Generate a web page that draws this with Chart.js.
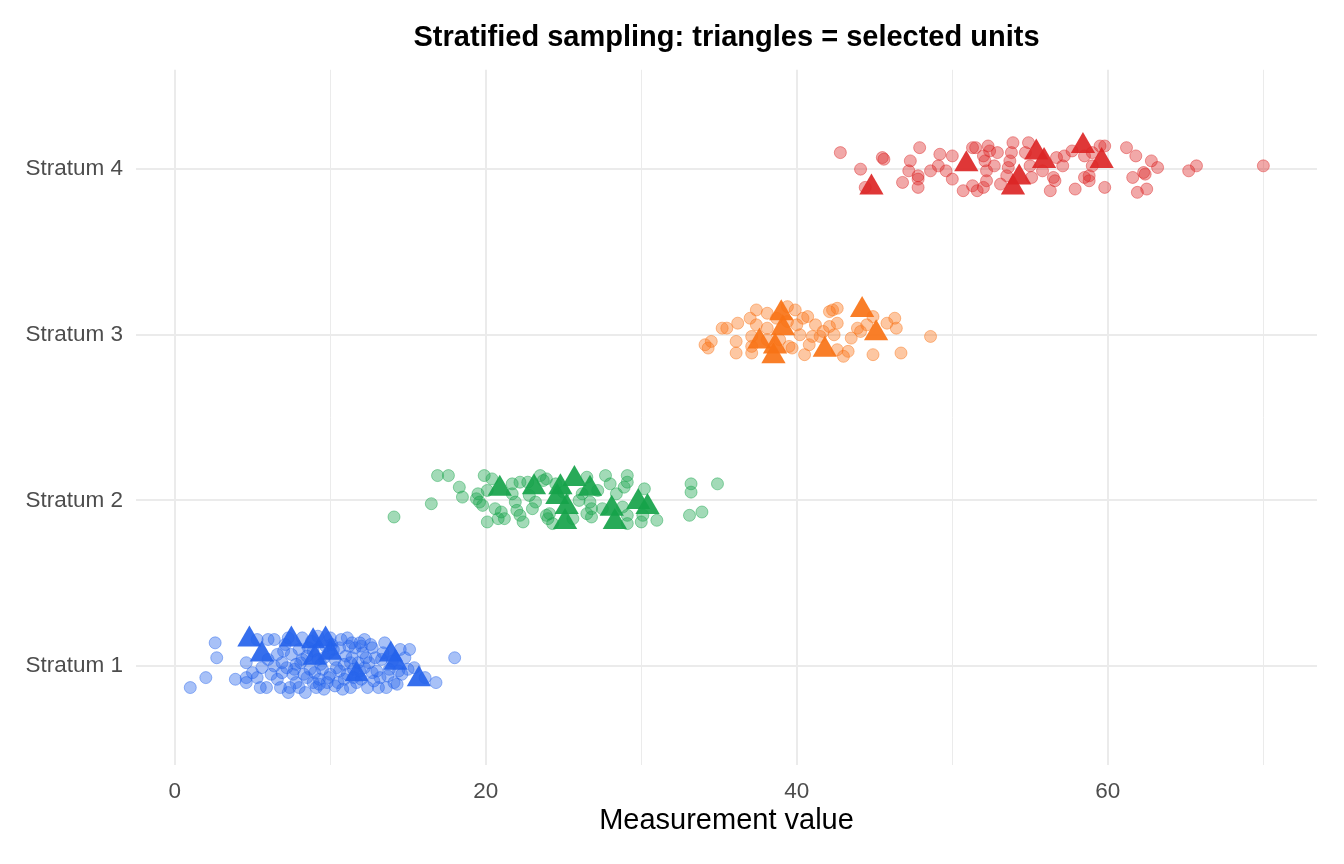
<!DOCTYPE html>
<html>
<head>
<meta charset="utf-8">
<script src="https://cdn.jsdelivr.net/npm/chart.js@4.4.1/dist/chart.umd.min.js"></script>
<style>
  html, body { margin: 0; padding: 0; background: #fff; }
  #wrap { width: 1344px; height: 864px; }
</style>
</head>
<body>
<div id="wrap"><canvas id="chart"></canvas></div>
<script>
// Strata (y positions 1..4) and tick labels
const strata = [1, 2, 3, 4];
const strataLabels = ['Stratum 1', 'Stratum 2', 'Stratum 3', 'Stratum 4'];
const xTicks = [0, 10, 20, 30, 40, 50, 60, 70];

// population units [value, jittered stratum]
const units1 = [
    [1.0, 0.87], [2.0, 0.93], [2.6, 1.14], [2.7, 1.05], [3.9, 0.92], [4.6, 1.02], [4.6, 0.93], [4.6, 0.90],
    [5.0, 0.96], [5.3, 0.93], [5.5, 0.87], [5.3, 1.16], [6.0, 1.16], [6.4, 1.16], [5.9, 0.87], [6.2, 0.95],
    [6.6, 1.07], [6.6, 0.92], [6.8, 0.87], [7.2, 0.99], [6.9, 1.02], [7.6, 0.95], [7.4, 0.87], [8.0, 0.87],
    [8.5, 0.93], [9.1, 0.87], [10.7, 1.16], [11.4, 1.14], [11.9, 1.14], [12.7, 1.11], [13.5, 1.14], [14.5, 1.10],
    [14.8, 1.05], [15.4, 0.99], [16.1, 0.93], [16.8, 0.90], [18.0, 1.05], [13.2, 0.93], [13.1, 0.87], [13.6, 0.87],
    [14.1, 0.90], [14.3, 0.89], [12.1, 1.08], [11.4, 1.05], [12.2, 0.99], [12.7, 0.96], [11.1, 0.95],
    [7.1, 1.13], [8.0, 1.10], [8.2, 1.04], [8.7, 0.98], [9.3, 0.92], [9.6, 0.86], [10.0, 0.95], [10.3, 1.04],
    [10.5, 0.90], [10.9, 1.01], [11.3, 0.87], [11.6, 1.11], [11.8, 1.02], [12.0, 0.92], [12.4, 0.87], [12.9, 1.05],
    [10.6, 1.11], [10.1, 1.13], [7.8, 1.01], [7.5, 1.07], [8.6, 1.11], [9.2, 1.04], [9.5, 0.98], [9.8, 0.90],
    [8.9, 0.90], [8.4, 0.84], [7.8, 0.90], [6.0, 1.04], [5.6, 0.99], [7.3, 0.84], [13.8, 0.98], [13.3, 1.04],
    [14.6, 0.95], [15.0, 0.98], [15.1, 1.10], [12.2, 1.16], [11.1, 1.17], [10.0, 1.17], [9.2, 1.18], [8.2, 1.17],
    [7.3, 1.17], [9.9, 1.08], [10.4, 0.99], [11.0, 1.06], [11.5, 0.98], [12.5, 1.02], [9.0, 0.96], [8.1, 1.02],
    [6.9, 0.96], [10.8, 0.86], [12.0, 1.12], [13.0, 0.97], [14.0, 1.03], [9.7, 1.12], [8.8, 1.15], [11.7, 0.90],
    [8.3, 0.95], [8.9, 1.09], [9.4, 1.01], [9.9, 0.93], [10.2, 1.10], [10.6, 0.97], [11.2, 1.12], [11.5, 0.93],
    [12.3, 1.05], [12.8, 0.91], [13.4, 1.08], [13.7, 0.94], [7.0, 1.09], [7.7, 0.98], [8.5, 1.06], [9.6, 1.05],
    [10.9, 0.92], [11.9, 0.97], [12.6, 1.13], [6.4, 1.00], [14.4, 0.97], [10.3, 0.88], [9.3, 0.89], [11.3, 1.02]
];
const units2 = [
    [14.1, 1.90], [16.5, 1.98], [16.9, 2.15], [17.6, 2.15], [18.3, 2.08], [18.5, 2.02], [19.5, 2.04], [19.4, 2.01],
    [19.6, 1.99], [19.9, 2.15], [20.4, 2.13], [20.1, 2.06], [19.8, 1.97], [20.6, 1.95], [20.1, 1.87], [20.8, 1.89],
    [21.2, 1.89], [21.7, 2.10], [21.7, 2.04], [22.2, 2.11], [21.9, 1.99], [22.0, 1.94], [22.2, 1.91], [22.4, 1.87],
    [22.7, 2.11], [23.0, 1.95], [23.2, 1.99], [23.5, 2.15], [23.7, 2.12], [23.9, 1.91], [23.9, 2.13], [26.5, 2.14],
    [27.7, 2.15], [28.0, 2.10], [29.1, 2.15], [29.1, 2.11], [28.9, 2.08], [28.4, 2.04], [26.2, 2.04], [26.0, 2.00],
    [26.7, 1.99], [26.8, 1.95], [27.5, 1.95], [26.5, 1.92], [26.8, 1.90], [24.1, 1.92], [24.0, 1.89], [24.3, 1.86],
    [25.6, 1.89], [28.8, 1.96], [29.1, 1.91], [29.1, 1.86], [30.1, 1.91], [30.0, 1.87], [31.0, 1.88], [30.2, 2.07],
    [33.2, 2.10], [33.2, 2.05], [34.9, 2.10], [33.1, 1.91], [33.9, 1.93], [24.5, 2.10], [25.0, 2.05], [27.2, 2.06],
    [22.8, 2.03], [21.0, 1.93]
];
const units3 = [
    [37.4, 3.15], [38.1, 3.13], [37.0, 3.10], [36.2, 3.07], [37.4, 3.06], [35.2, 3.04], [35.5, 3.04], [34.5, 2.96],
    [34.1, 2.94], [34.3, 2.92], [36.1, 2.96], [36.1, 2.89], [37.1, 2.99], [37.1, 2.93], [37.1, 2.89], [38.1, 3.04],
    [38.1, 2.97], [39.4, 3.17], [39.9, 3.15], [39.5, 2.93], [40.4, 3.10], [40.7, 3.11], [40.0, 3.06], [40.2, 3.00],
    [41.2, 3.06], [41.7, 3.02], [41.0, 2.99], [40.8, 2.94], [40.5, 2.88], [42.3, 3.15], [42.6, 3.16], [42.1, 3.14],
    [42.6, 3.07], [42.1, 3.05], [42.4, 3.00], [41.5, 2.99], [42.6, 2.91], [43.0, 2.87], [43.3, 2.90], [43.5, 2.98],
    [43.9, 3.04], [44.1, 3.02], [44.5, 3.06], [44.9, 3.11], [44.9, 2.88], [45.8, 3.07], [46.3, 3.10], [46.4, 3.04],
    [46.7, 2.89], [48.6, 2.99], [39.7, 2.92], [38.9, 2.97], [39.4, 3.08], [38.7, 3.10]
];
const units4 = [
    [42.8, 4.10], [44.1, 4.00], [45.5, 4.07], [45.6, 4.06], [44.4, 3.89], [47.9, 4.13], [47.3, 4.05], [47.2, 3.99],
    [47.8, 3.96], [47.8, 3.94], [46.8, 3.92], [47.8, 3.89], [48.6, 3.99], [49.2, 4.09], [49.1, 4.02], [49.6, 3.99],
    [50.0, 4.08], [50.0, 3.94], [50.7, 3.87], [51.3, 4.13], [51.3, 3.90], [51.5, 4.13], [51.6, 3.87], [52.0, 4.08],
    [52.1, 4.05], [52.2, 3.99], [52.3, 4.14], [52.4, 4.11], [52.7, 4.02], [52.9, 4.10], [52.2, 3.93], [52.0, 3.89],
    [53.1, 3.91], [53.9, 4.16], [53.8, 4.10], [53.7, 4.05], [53.6, 4.01], [53.5, 3.96], [54.9, 4.16], [54.7, 4.10],
    [55.0, 4.02], [55.1, 3.95], [55.8, 3.99], [56.5, 3.95], [56.6, 3.93], [56.3, 3.87], [56.7, 4.07], [57.1, 4.02],
    [57.2, 4.08], [57.7, 4.11], [58.5, 4.08], [59.0, 4.10], [59.5, 4.14], [59.0, 4.02], [58.8, 3.96], [58.5, 3.95],
    [58.8, 3.93], [57.9, 3.88], [59.8, 3.89], [59.8, 4.14], [61.2, 4.13], [61.8, 4.08], [62.8, 4.05], [63.2, 4.01],
    [62.3, 3.98], [61.6, 3.95], [62.4, 3.97], [62.5, 3.88], [61.9, 3.86], [65.7, 4.02], [65.2, 3.99], [70.0, 4.02]
];

// selected units (triangles)
const selected1 = [
    [4.8, 1.16], [5.6, 1.07], [7.5, 1.16], [8.9, 1.15], [9.7, 1.16], [9.0, 1.05], [10.0, 1.08],
    [11.7, 0.95], [13.9, 1.07], [14.2, 1.02], [15.7, 0.92]
];
const selected2 = [
    [20.9, 2.07], [23.1, 2.08], [24.8, 2.08], [25.7, 2.13], [26.7, 2.07], [24.6, 2.02], [25.2, 1.96],
    [25.1, 1.87], [28.1, 1.95], [28.3, 1.87], [29.8, 1.99], [30.4, 1.96]
];
const selected3 = [
    [39.0, 3.13], [39.1, 3.04], [37.6, 2.96], [38.6, 2.93], [38.5, 2.87], [41.8, 2.91], [44.2, 3.15], [45.1, 3.01]
];
const selected4 = [
    [44.8, 3.89], [50.9, 4.03], [54.3, 3.95], [53.9, 3.89], [55.4, 4.10], [55.9, 4.05], [58.4, 4.14], [59.6, 4.05]
];

const colours = ['37,99,235', '22,163,74', '249,115,22', '220,38,38'];
const unitSets = [units1, units2, units3, units4];
const selectedSets = [selected1, selected2, selected3, selected4];

const FONT = "'Liberation Sans', Arial, sans-serif";
const toXY = arr => arr.map(p => ({ x: p[0], y: p[1] }));

const datasets = [];
unitSets.forEach((set, i) => {
    datasets.push({
        data: toXY(set),
        pointStyle: 'circle',
        pointRadius: 6,
        pointBackgroundColor: 'rgba(' + colours[i] + ',0.4)',
        pointBorderColor: 'rgba(' + colours[i] + ',0.45)',
        pointBorderWidth: 1,
        order: 2
    });
});
selectedSets.forEach((set, i) => {
    datasets.push({
        data: toXY(set),
        pointStyle: 'triangle',
        pointRadius: 14,
        pointBackgroundColor: 'rgba(' + colours[i] + ',0.92)',
        pointBorderWidth: 0,
        order: 1
    });
});

new Chart(document.getElementById('chart'), {
    type: 'scatter',
    data: { datasets: datasets },
    options: {
        responsive: true,
        maintainAspectRatio: false,
        animation: false,
        layout: { padding: { left: 0, right: 27, top: 0, bottom: 0 } },
        plugins: {
            legend: { display: false },
            tooltip: { enabled: false },
            title: {
                display: true,
                fullSize: false,
                text: 'Stratified sampling: triangles = selected units',
                color: '#000',
                font: { family: FONT, size: 29, weight: 'bold' },
                padding: { top: 21, bottom: 14 }
            }
        },
        scales: {
            x: {
                type: 'linear',
                min: -2.49,
                max: 73.45,
                afterBuildTicks: s => { s.ticks = xTicks.map(v => ({ value: v })); },
                afterFit: s => { s.height = 98.6; },
                border: { display: false },
                grid: {
                    drawTicks: false,
                    color: '#ebebeb',
                    lineWidth: ctx => (ctx.tick && ctx.tick.value % 20 === 0) ? 2 : 1
                },
                ticks: {
                    padding: 13,
                    color: '#4d4d4d',
                    font: { family: FONT, size: 22.5 },
                    maxRotation: 0,
                    autoSkip: false,
                    callback: v => (v % 20 === 0 ? String(v) : '')
                },
                title: {
                    display: true,
                    text: 'Measurement value',
                    color: '#000',
                    font: { family: FONT, size: 29 },
                    padding: { top: 0, bottom: 26 }
                }
            },
            y: {
                type: 'linear',
                min: 0.4,
                max: 4.6,
                afterBuildTicks: s => { s.ticks = strata.map(v => ({ value: v })); },
                afterFit: s => { s.width = 136; },
                border: { display: false },
                grid: { drawTicks: false, color: '#ebebeb', lineWidth: 2 },
                ticks: {
                    padding: 13,
                    color: '#4d4d4d',
                    font: { family: FONT, size: 22.5 },
                    callback: v => strataLabels[strata.indexOf(v)] || ''
                }
            }
        }
    }
});
</script>
</body>
</html>
